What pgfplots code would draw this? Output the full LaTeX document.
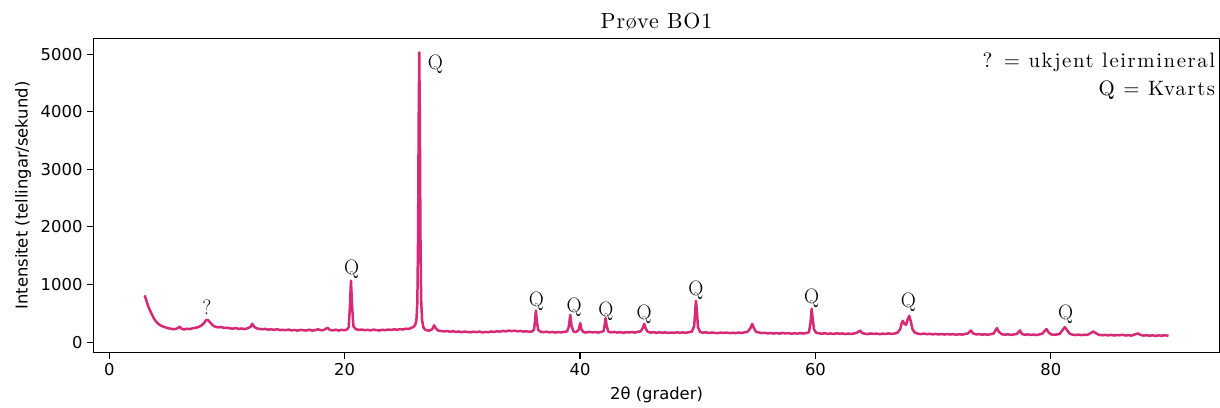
\documentclass[border=0pt]{standalone}
\usepackage{fontspec}
\usepackage{pgfplots}
\usepackage{pgfplotstable}
\pgfplotsset{compat=1.18}
\newfontfamily\dejavu{DejaVu Sans}
\newfontfamily\lmwide{lmroman10-regular.otf}[LetterSpace=7.5]
\newfontfamily\lmtitle{lmroman10-regular.otf}[LetterSpace=4]
\definecolor{xrd}{RGB}{214,41,118}

\pgfplotstableread{
x y
3.00 810
3.10 760
3.20 690
3.30 630
3.40 580
3.50 535
3.65 470
3.80 410
3.95 365
4.10 330
4.25 305
4.40 285
4.55 272
4.70 258
4.85 252
5.00 240
5.25 232
5.50 222
5.75 235
6.00 268
6.15 230
6.35 218
6.60 232
6.85 225
7.10 240
7.35 248
7.60 262
7.85 290
8.05 330
8.20 372
8.33 390
8.45 370
8.60 335
8.80 290
9.00 268
9.25 255
9.50 262
9.75 245
10.00 250
10.25 238
10.50 232
10.75 245
11.00 228
11.25 236
11.50 225
11.75 240
12.00 262
12.15 318
12.30 270
12.50 240
12.75 228
13.00 222
13.25 230
13.50 215
13.75 222
14.00 212
14.25 225
14.50 208
14.75 214
15.00 205
15.25 218
15.50 202
15.75 210
16.00 198
16.25 212
16.50 205
16.75 200
17.00 215
17.25 198
17.50 208
17.75 222
18.00 205
18.25 212
18.55 248
18.75 210
19.00 202
19.25 215
19.50 200
19.75 212
20.00 206
20.20 218
20.35 260
20.45 620
20.54 1068
20.63 640
20.75 270
20.95 225
21.20 212
21.45 218
21.70 206
21.95 214
22.20 202
22.45 216
22.70 208
22.95 200
23.20 214
23.45 206
23.70 218
23.95 210
24.20 222
24.45 212
24.70 226
24.95 218
25.20 232
25.45 228
25.65 245
25.85 262
26.00 300
26.10 380
26.18 700
26.24 1800
26.29 3800
26.34 5034
26.39 3900
26.44 1900
26.50 750
26.58 380
26.70 250
26.85 215
27.00 205
27.20 198
27.45 225
27.60 290
27.75 240
27.95 200
28.20 192
28.45 185
28.70 192
28.95 180
29.20 188
29.45 176
29.70 184
29.95 172
30.20 182
30.45 176
30.70 170
30.95 180
31.20 172
31.45 182
31.70 168
31.95 176
32.20 170
32.45 184
32.70 175
32.95 188
33.20 180
33.45 195
33.70 186
33.95 200
34.20 190
34.45 198
34.70 186
34.95 194
35.20 182
35.45 188
35.70 178
35.95 186
36.10 220
36.18 380
36.25 548
36.33 360
36.45 210
36.65 180
36.90 172
37.15 180
37.40 168
37.65 176
37.90 165
38.15 174
38.40 168
38.65 178
38.90 185
39.05 270
39.17 473
39.28 280
39.45 180
39.70 175
39.90 220
40.02 330
40.12 220
40.30 172
40.55 166
40.80 178
41.05 168
41.30 174
41.55 165
41.80 176
42.00 190
42.10 300
42.17 416
42.26 290
42.40 180
42.65 168
42.90 176
43.15 165
43.40 172
43.65 162
43.90 170
44.15 166
44.40 175
44.65 164
44.90 178
45.15 185
45.32 240
45.45 317
45.58 235
45.75 178
46.00 165
46.25 172
46.50 160
46.75 170
47.00 162
47.25 168
47.50 158
47.75 166
48.00 160
48.25 170
48.50 162
48.75 168
49.00 160
49.25 172
49.50 180
49.70 280
49.80 580
49.85 716
49.92 560
50.02 260
50.20 175
50.45 162
50.70 170
50.95 158
51.20 166
51.45 160
51.70 155
51.95 165
52.20 158
52.45 166
52.70 154
52.95 162
53.20 156
53.45 165
53.70 158
53.95 168
54.20 175
54.45 230
54.63 315
54.78 240
54.95 180
55.20 165
55.45 156
55.70 162
55.95 150
56.20 158
56.45 148
56.70 156
56.95 146
57.20 160
57.45 150
57.70 155
57.95 145
58.20 152
58.45 146
58.70 156
58.95 148
59.20 155
59.45 170
59.58 330
59.68 577
59.76 420
59.88 220
60.05 165
60.30 152
60.55 145
60.80 154
61.05 142
61.30 150
61.55 140
61.80 152
62.05 144
62.30 150
62.55 138
62.80 148
63.05 142
63.30 150
63.55 165
63.78 201
63.95 160
64.20 145
64.45 138
64.70 150
64.95 140
65.20 148
65.45 136
65.70 146
65.95 140
66.20 150
66.45 142
66.70 148
66.95 160
67.20 220
67.33 330
67.43 369
67.55 320
67.70 300
67.85 400
67.97 456
68.10 360
68.25 220
68.45 165
68.70 146
68.95 138
69.20 148
69.45 136
69.70 144
69.95 134
70.20 142
70.45 132
70.70 140
70.95 130
71.20 140
71.45 132
71.70 138
71.95 128
72.20 136
72.45 130
72.70 140
72.95 150
73.21 201
73.40 150
73.65 132
73.90 138
74.15 128
74.40 136
74.65 126
74.90 138
75.15 150
75.42 243
75.60 175
75.85 135
76.10 128
76.35 136
76.60 124
76.85 132
77.10 140
77.38 201
77.55 140
77.80 126
78.05 134
78.30 124
78.55 130
78.80 122
79.05 134
79.30 150
79.50 200
79.64 225
79.80 170
80.00 135
80.25 126
80.50 132
80.75 140
81.00 210
81.19 260
81.35 215
81.60 145
81.85 128
82.10 122
82.35 130
82.60 120
82.85 128
83.10 124
83.35 150
83.60 184
83.85 150
84.10 125
84.35 118
84.60 126
84.85 116
85.10 124
85.35 114
85.60 122
85.85 118
86.10 126
86.35 114
86.60 120
86.85 112
87.10 130
87.40 150
87.65 122
87.90 112
88.15 120
88.40 110
88.65 118
88.90 108
89.15 116
89.40 110
89.65 118
90.00 110
}\xrddata

\begin{document}
\begin{tikzpicture}
\useasboundingbox (-67.2pt,-39.1pt) rectangle (811.2pt,254pt);
\begin{axis}[
  at={(0,0)}, anchor=south west,
  scale only axis, width=811pt, height=226.4pt,
  xmin=-1.35, xmax=94.35, ymin=-186, ymax=5277,
  xtick={0,20,40,60,80},
  ytick={0,1000,2000,3000,4000,5000},
  tick align=outside, tick pos=left,
  major tick length=4.3pt,
  every tick/.style={black, line width=0.8pt},
  axis line style={line width=0.8pt, black},
  /pgf/number format/assume math mode=true,
  /pgf/number format/.cd, fixed, 1000 sep={}, /pgfplots/.cd,
  tick label style={font=\dejavu\fontsize{11.8}{14}\selectfont},
  label style={font=\dejavu\fontsize{11.8}{14}\selectfont},
  xlabel={2θ (grader)},
  ylabel={Intensitet (tellingar/sekund)},
  xlabel style={at={(axis description cs:0.5,-0.1345)}, anchor=center},
  ylabel style={at={(axis description cs:-0.0623,0.5)}, anchor=center},
  clip=false,
]
\addplot[xrd, line width=1.8pt, line join=round, no markers] table[x=x, y=y] {\xrddata};

\node[anchor=base, inner sep=0pt, font=\lmtitle\fontsize{15.8}{18}\selectfont]
  at (axis description cs:0.5,1.0318) {Prøve BO1};

\begin{scope}[every node/.style={font=\fontsize{15}{17}\selectfont, anchor=base, inner sep=0pt}]
\node at (axis cs:8.3,473) {?};
\node at (axis cs:20.6,1167) {Q};
\node at (axis cs:27.7,4739) {Q};
\node at (axis cs:36.3,617) {Q};
\node at (axis cs:39.5,513) {Q};
\node at (axis cs:42.2,444) {Q};
\node at (axis cs:45.45,387) {Q};
\node at (axis cs:49.85,803) {Q};
\node at (axis cs:59.68,676) {Q};
\node at (axis cs:67.9,607) {Q};
\node at (axis cs:81.26,399) {Q};
\end{scope}
\begin{scope}[every node/.style={font=\lmwide\fontsize{15}{17}\selectfont, anchor=base east, inner sep=0pt}]
\node at (axis description cs:0.9962,0.9087) {? = ukjent leirmineral};
\node at (axis description cs:0.9962,0.818) {Q = Kvarts};
\end{scope}
\end{axis}
\end{tikzpicture}
\end{document}
